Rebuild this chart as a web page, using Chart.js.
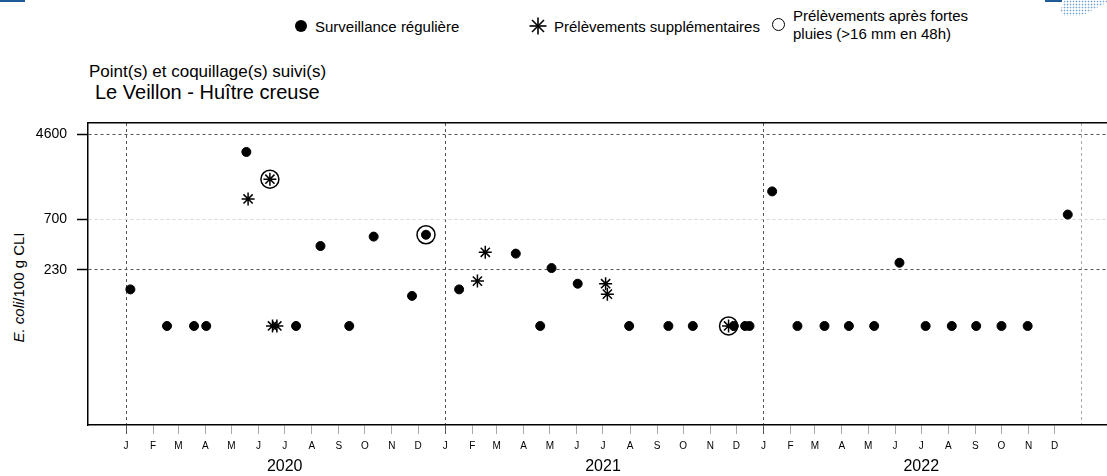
<!DOCTYPE html>
<html lang="fr">
<head>
<meta charset="utf-8">
<title>Le Veillon - Huître creuse</title>
<script src="https://cdn.jsdelivr.net/npm/chart.js@4.4.1/dist/chart.umd.min.js"></script>
<style>
  html, body { margin: 0; padding: 0; background: #fff; }
  body {
    width: 1107px; height: 476px; position: relative; overflow: hidden;
    font-family: "Liberation Sans", Arial, sans-serif; color: #000;
  }
  #chart { position: absolute; left: 0; top: 0; }
  .abs { position: absolute; white-space: nowrap; }
  .deco-left { position: absolute; left: 0; top: 0; width: 25px; height: 2px; background: #1e5c99; }
  .deco-bar { position: absolute; left: 1045px; top: 0; width: 17px; height: 2px; background: #1e5c99; }
  .deco-logo {
    position: absolute; left: 1060px; top: 0; width: 47px; height: 16px;
    background: radial-gradient(circle, #6f9fd0 0.7px, transparent 1.1px) 0 0 / 3px 3px;
    clip-path: polygon(10% 0, 100% 0, 100% 15%, 45% 100%, 10% 100%, 0 70%);
  }
  .legend-text { font-size: 15px; line-height: 15px; }
  .dot { width: 12px; height: 12px; border-radius: 50%; background: #000; }
  .ring { width: 11px; height: 11px; border-radius: 50%; border: 1.5px solid #000; }
  .ytitle {
    position: absolute; width: 200px; text-align: center;
    font-size: 15px; line-height: 15px; transform: rotate(-90deg);
  }
</style>
</head>
<body>
<div class="deco-left"></div>
<div class="deco-bar"></div>
<div class="deco-logo"></div>

<!-- legend -->
<div class="abs dot" style="left:295px; top:20px;"></div>
<div class="abs legend-text" style="left:315px; top:19px;">Surveillance régulière</div>
<svg class="abs" style="left:529px; top:17px;" width="18" height="18" viewBox="-9 -9 18 18">
  <g stroke="#000" stroke-width="1.6">
    <line x1="-8.5" y1="0" x2="8.5" y2="0"/><line x1="0" y1="-8.5" x2="0" y2="8.5"/>
    <line x1="-6" y1="-6" x2="6" y2="6"/><line x1="-6" y1="6" x2="6" y2="-6"/>
  </g>
</svg>
<div class="abs legend-text" style="left:554px; top:19px;">Prélèvements supplémentaires</div>
<div class="abs ring" style="left:772px; top:18px;"></div>
<div class="abs" style="left:793px; top:7px; font-size:15px; line-height:18px;">Prélèvements après fortes<br>pluies (&gt;16 mm en 48h)</div>

<!-- titles -->
<div class="abs" style="left:89px; top:63px; font-size:17px; line-height:17px;">Point(s) et coquillage(s) suivi(s)</div>
<div class="abs" style="left:95px; top:82px; font-size:20px; line-height:20px;">Le Veillon - Huître creuse</div>

<div class="ytitle" style="left:-82px; top:280px;"><i>E. coli</i>/100 g CLI</div>

<canvas id="chart" width="1107" height="476"></canvas>

<script>
const monthLabels = ['J', 'F', 'M', 'A', 'M', 'J', 'J', 'A', 'S', 'O', 'N', 'D'];
const yearLabels = ['2020', '2021', '2022'];
const yTicks = [230, 700, 4600];

// Surveillance régulière
const regularDates = [
    '2020-01-06', '2020-02-17', '2020-03-19', '2020-04-02', '2020-05-18', '2020-07-14',
    '2020-08-11', '2020-09-13', '2020-10-11', '2020-11-24', '2020-12-10',
    '2021-01-17', '2021-03-23', '2021-04-20', '2021-05-03', '2021-06-02', '2021-07-31',
    '2021-09-14', '2021-10-12', '2021-11-28', '2021-12-11', '2021-12-16',
    '2022-01-11', '2022-02-09', '2022-03-12', '2022-04-09', '2022-05-08', '2022-06-06',
    '2022-07-06', '2022-08-05', '2022-09-02', '2022-10-01', '2022-10-31', '2022-12-16'
];
const regularValues = [
    150, 67, 67, 67, 3100, 67, 390, 67, 480, 130, 500,
    150, 330, 67, 240, 170, 67, 67, 67, 67, 67, 67,
    1300, 67, 67, 67, 67, 270, 67, 67, 67, 67, 67, 780
];

// Prélèvements supplémentaires
const extraDates = [
    '2020-05-20', '2020-06-14', '2020-06-17', '2020-06-22',
    '2021-02-07', '2021-02-16', '2021-07-04', '2021-07-06', '2021-11-22'
];
const extraValues = [1100, 1700, 67, 67, 180, 340, 170, 135, 67];

// Prélèvements après fortes pluies
const rainDates = ['2020-06-14', '2020-12-10', '2021-11-22'];
const rainValues = [1700, 500, 67];

const DAY = 86400000;
const origin = Date.UTC(2020, 0, 1);

function toDay(str) {
    const [y, m, d] = str.split('-').map(Number);
    return (Date.UTC(y, m - 1, d) - origin) / DAY;
}

function monthDay(year, month) {
    return (Date.UTC(year, month, 1) - origin) / DAY;
}

function points(dates, values) {
    return dates.map((d, i) => ({ x: toDay(d), y: values[i] }));
}

const monthTicks = [];
yearLabels.forEach(yr => {
    monthLabels.forEach((lbl, m) => {
        monthTicks.push({ value: monthDay(Number(yr), m), label: lbl, jan: m === 0 });
    });
});
const endDay = monthDay(2023, 0);
monthTicks.push({ value: endDay, label: '', jan: true });

const xMin = -43.6;
const xMax = 1125;
const yMin = 7.56;
const yMax = 5866;
const font = '"Liberation Sans", Arial, sans-serif';

new Chart(document.getElementById('chart'), {
    type: 'scatter',
    data: {
        datasets: [
            {
                label: 'Surveillance régulière',
                data: points(regularDates, regularValues),
                pointStyle: 'circle',
                pointRadius: 4.5,
                backgroundColor: '#000',
                borderColor: '#000',
                borderWidth: 1
            },
            {
                label: 'Prélèvements supplémentaires',
                data: points(extraDates, extraValues),
                pointStyle: 'star',
                pointRadius: 6.5,
                backgroundColor: '#000',
                borderColor: '#000',
                borderWidth: 1.5
            },
            {
                label: 'Prélèvements après fortes pluies (>16 mm en 48h)',
                data: points(rainDates, rainValues),
                pointStyle: 'circle',
                pointRadius: 9,
                backgroundColor: 'rgba(0,0,0,0)',
                borderColor: '#000',
                borderWidth: 1.5
            }
        ]
    },
    options: {
        responsive: false,
        devicePixelRatio: 1,
        animation: false,
        events: [],
        layout: { padding: 0, autoPadding: false },
        plugins: {
            legend: { display: false },
            tooltip: { enabled: false }
        },
        scales: {
            x: {
                type: 'linear',
                position: 'bottom',
                weight: 0,
                min: xMin,
                max: xMax,
                afterBuildTicks: s => { s.ticks = monthTicks.map(t => ({ value: t.value })); },
                afterFit: s => { s.height = 30; },
                ticks: {
                    autoSkip: false,
                    maxRotation: 0,
                    padding: 6,
                    color: '#000',
                    font: { family: font, size: 10 },
                    callback: (v, i) => monthTicks[i].label
                },
                grid: {
                    lineWidth: 1,
                    color: ctx => {
                        if (!ctx.tick) return 'rgba(0,0,0,0)';
                        if (ctx.tick.value === endDay) return '#aaa';
                        return monthTicks[ctx.index] && monthTicks[ctx.index].jan ? '#555' : 'rgba(0,0,0,0)';
                    },
                    tickLength: 9,
                    tickWidth: 1,
                    tickColor: ctx => {
                        if (!ctx.tick || ctx.tick.value === endDay) return 'rgba(0,0,0,0)';
                        return monthTicks[ctx.index].jan ? '#555' : '#aaa';
                    }
                },
                border: { display: true, color: '#000', width: 1.5, dash: [3, 3] }
            },
            x2: {
                type: 'linear',
                position: 'bottom',
                weight: 1,
                min: xMin,
                max: xMax,
                afterBuildTicks: s => { s.ticks = yearLabels.map(y => ({ value: monthDay(Number(y), 6) })); },
                afterFit: s => { s.height = 21; },
                ticks: {
                    autoSkip: false,
                    maxRotation: 0,
                    padding: 2,
                    color: '#000',
                    font: { family: font, size: 16 },
                    callback: (v, i) => yearLabels[i]
                },
                grid: { display: false, drawTicks: false },
                border: { display: false }
            },
            xTop: {
                type: 'linear',
                position: 'top',
                min: xMin,
                max: xMax,
                afterFit: s => { s.height = 123; },
                ticks: { display: false },
                grid: { display: false, drawTicks: false },
                border: { display: true, color: '#000', width: 1.5 }
            },
            y: {
                type: 'logarithmic',
                position: 'left',
                min: yMin,
                max: yMax,
                afterBuildTicks: s => { s.ticks = yTicks.map(v => ({ value: v })); },
                afterFit: s => { s.width = 88; },
                ticks: {
                    padding: 10,
                    color: '#000',
                    font: { family: font, size: 14 },
                    callback: (v, i) => String(yTicks[i])
                },
                grid: {
                    lineWidth: 1,
                    color: ctx => (ctx.tick && ctx.tick.value === 700 ? '#d6d6d6' : '#555'),
                    tickLength: 11,
                    tickWidth: 1.5,
                    tickColor: '#000'
                },
                border: { display: true, color: '#000', width: 1.5, dash: [3, 3] }
            }
        }
    }
});
</script>
</body>
</html>
